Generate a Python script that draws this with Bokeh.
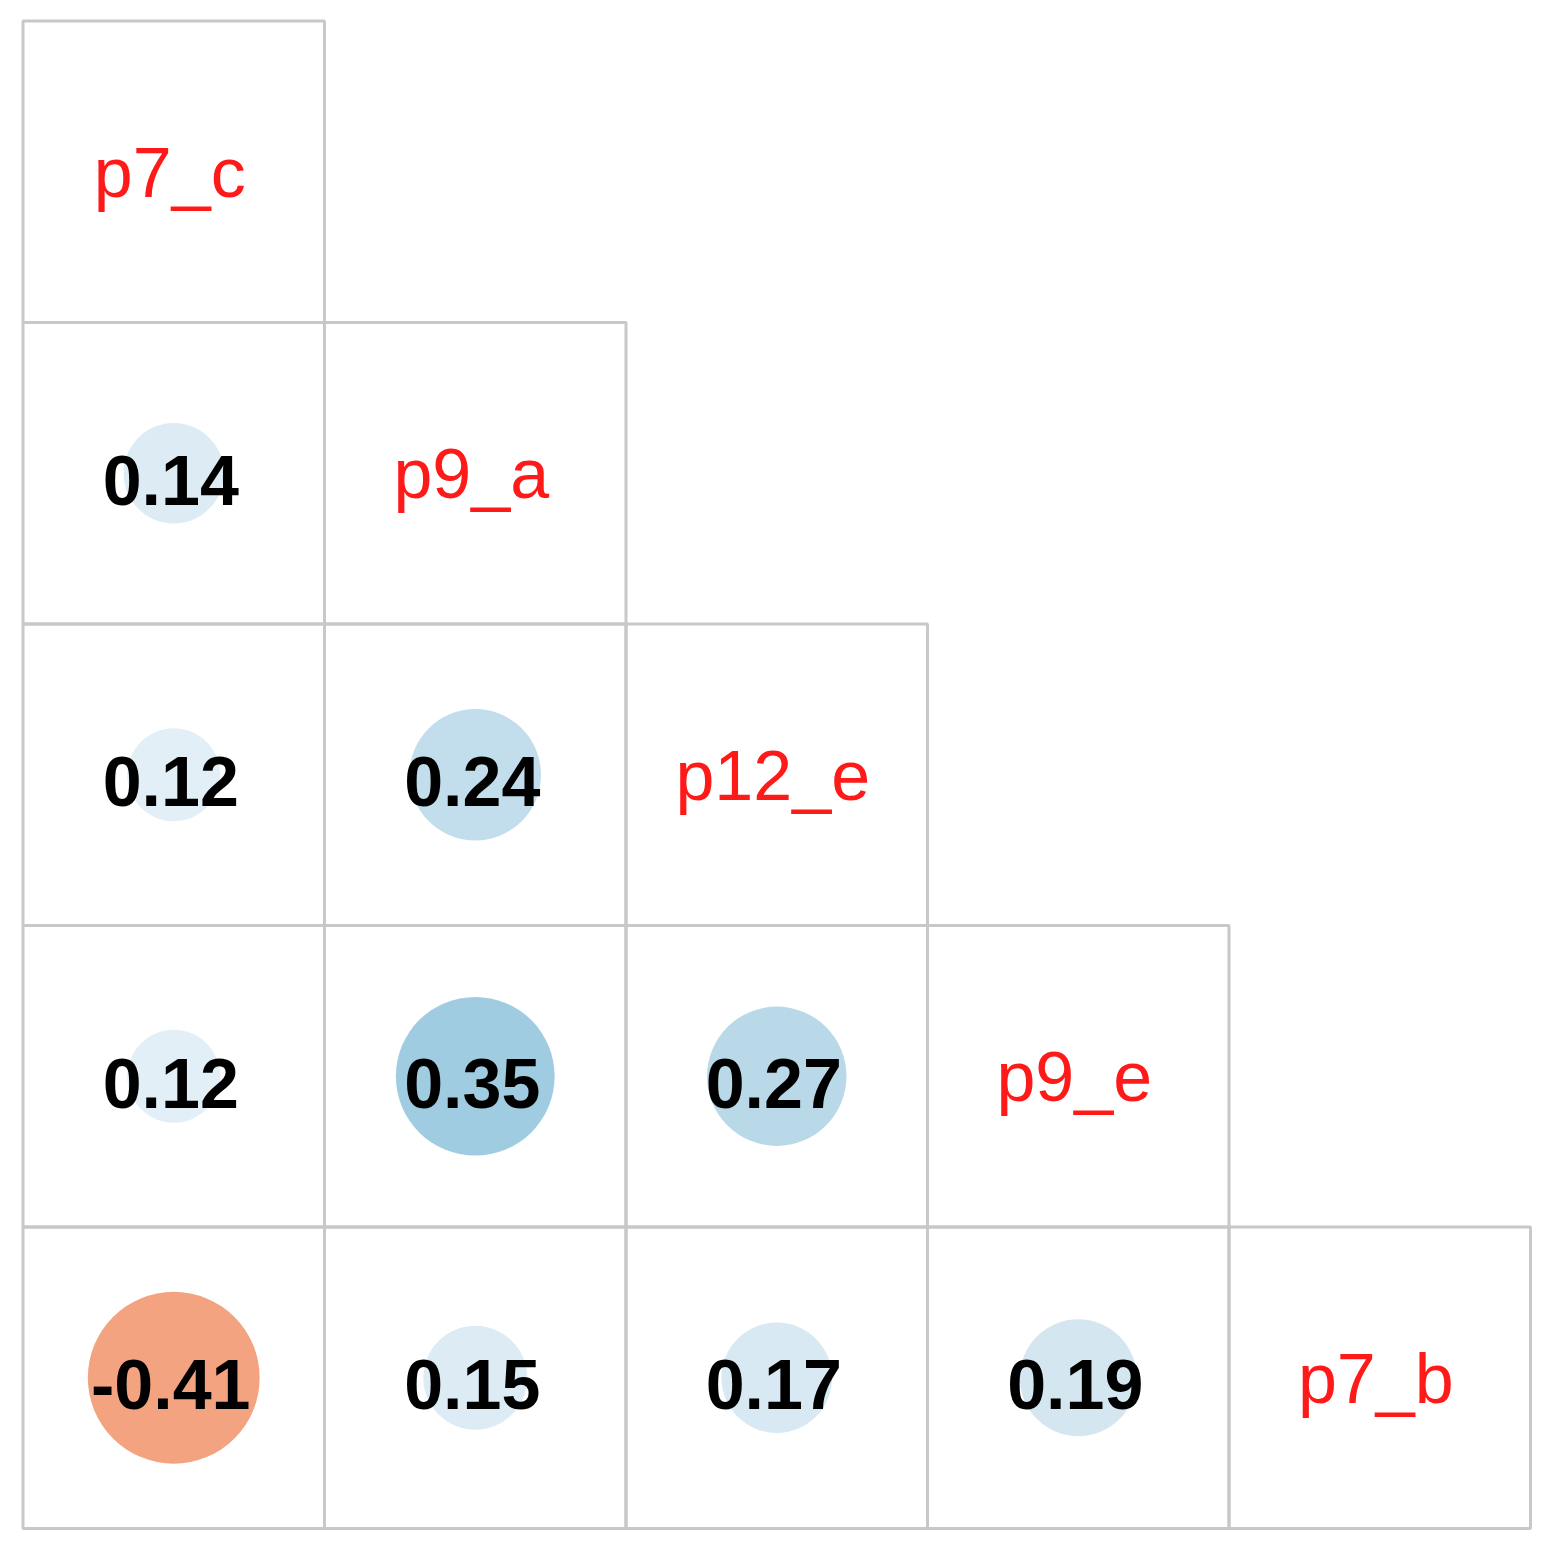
import numpy as np
from bokeh.plotting import figure
from bokeh.models import ColumnDataSource, LinearColorMapper, Range1d
from bokeh.core.properties import value
from bokeh.transform import transform
from bokeh.embed import file_html
from bokeh.resources import INLINE

# ---- data ----
variables = ["p7_c", "p9_a", "p12_e", "p9_e", "p7_b"]
row_var = ["p9_a", "p12_e", "p12_e", "p9_e", "p9_e", "p9_e", "p7_b", "p7_b", "p7_b", "p7_b"]
col_var = ["p7_c", "p7_c", "p9_a", "p7_c", "p9_a", "p12_e", "p7_c", "p9_a", "p12_e", "p9_e"]
corr = [0.14, 0.12, 0.24, 0.12, 0.35, 0.27, -0.41, 0.15, 0.17, 0.19]

# corrplot-like RdBu palette (200 colours)
stops = ["#67001F", "#B2182B", "#D6604D", "#F4A582", "#FDDBC7", "#FFFFFF",
         "#D1E5F0", "#92C5DE", "#4393C3", "#2166AC", "#053061"]
def hex2rgb(h):
    return [int(h[i:i + 2], 16) for i in (1, 3, 5)]
srgb = np.array([hex2rgb(s) for s in stops], dtype=float)
t = np.linspace(0, 1, 200)
st = np.linspace(0, 1, len(stops))
pal = []
for tt in t:
    r = np.interp(tt, st, srgb[:, 0]); g = np.interp(tt, st, srgb[:, 1]); b = np.interp(tt, st, srgb[:, 2])
    pal.append("#%02x%02x%02x" % (int(round(r)), int(round(g)), int(round(b))))
mapper = LinearColorMapper(palette=pal, low=-1, high=1)

n = len(variables)
idx = {v: i for i, v in enumerate(variables)}

# cell positions (column i spans [i, i+1]; row j (top=0) spans [n-j-1, n-j])
cx = [idx[c] + 0.5 for c in col_var]
cy = [n - idx[r] - 0.5 for r in row_var]
rad = [0.445 * np.sqrt(abs(v)) for v in corr]
labels = ["%.2f" % v for v in corr]
src = ColumnDataSource(dict(x=cx, y=cy, r=rad, v=corr, lab=labels))

# grid cells (lower triangle + diagonal)
gx0, gx1, gy0, gy1 = [], [], [], []
for j in range(n):
    for i in range(j + 1):
        gx0.append(i); gx1.append(i + 1)
        gy0.append(n - j - 1); gy1.append(n - j)

W = H = 1540
scale = 301.5
x0 = -22.5 / scale
y1 = n + 20.5 / scale
p = figure(width=W, height=H, output_backend="svg", toolbar_location=None,
           x_range=Range1d(x0, x0 + W / scale), y_range=Range1d(y1 - H / scale, y1),
           min_border=0, outline_line_color=None)
p.axis.visible = False
p.grid.visible = False
p.background_fill_color = "white"

p.quad(left=gx0, right=gx1, bottom=gy0, top=gy1, fill_color=None,
       line_color="#c8c8c8", line_width=3)

p.circle(x="x", y="y", radius="r", source=src,
         fill_color=transform("v", mapper), line_color=None)

p.text(x="x", y="y", text="lab", source=src, text_align="center",
       text_baseline="middle", text_font=value("Liberation Sans"),
       text_font_style="bold", text_font_size="70px", text_color="black",
       x_offset=-3, y_offset=7)

dx = [i + 0.5 for i in range(n)]
dy = [n - i - 0.5 for i in range(n)]
p.text(x=dx, y=dy, text=variables, text_align="center", text_baseline="middle",
       text_font=value("Liberation Sans"), text_font_size="70px", text_color="#ff1a1a",
       x_offset=-4, y_offset=1)

open("out.html", "w").write(file_html(p, INLINE))
